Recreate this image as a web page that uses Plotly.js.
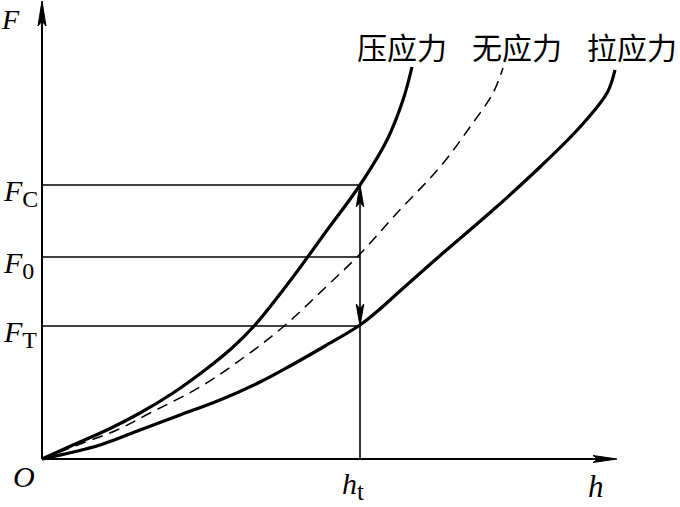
<!DOCTYPE html>
<html>
<head>
<meta charset="utf-8">
<script src="https://cdn.plot.ly/plotly-3.0.1.min.js"></script>
<style>html,body{margin:0;padding:0;background:#fff;}</style>
</head>
<body>
<div id="chart" style="width:680px;height:507px;"></div>
<script>
// Curve data (h, F) in arbitrary units
const hCompress = [0, 31, 65, 98, 131, 163, 190, 213, 248, 283, 318, 345, 361, 370];
const FCompress = [0, 14, 29, 46, 66, 89, 111, 134, 178, 226, 274, 319, 359, 392];

const hNone = [0, 41, 75, 108, 158, 201, 241, 286, 318, 355, 398, 428, 451, 461];
const FNone = [0, 16, 29, 46, 72, 101, 132, 174, 205, 246, 292, 332, 366, 391];

const hTension = [0, 58, 98, 138, 178, 218, 248, 283, 318, 338, 358, 401, 451, 498, 538, 565, 573];
const FTension = [0, 14, 29, 44, 59, 77, 93, 113, 134, 150, 168, 206, 249, 292, 332, 366, 389];

// Reference levels
const H_T = 318;
const F_C = 274;
const F_0 = 202;
const F_T = 133;
const H_MAX = 575;
const F_MAX = 459;

const curveLabels = ['压应力', '无应力', '拉应力'];
const levelNames = ['C', '0', 'T'];
const levelValues = [F_C, F_0, F_T];

const black = '#000';
const traces = [
  {x: hCompress, y: FCompress, mode: 'lines', line: {color: black, width: 3.2, shape: 'spline', smoothing: 1.0}, hoverinfo: 'skip'},
  {x: hNone, y: FNone, mode: 'lines', line: {color: black, width: 1.5, dash: '11px,7px', shape: 'spline', smoothing: 1.0}, hoverinfo: 'skip'},
  {x: hTension, y: FTension, mode: 'lines', line: {color: black, width: 3.2, shape: 'spline', smoothing: 1.0}, hoverinfo: 'skip'},
  // vertical at h_t
  {x: [H_T, H_T], y: [0, F_C], mode: 'lines', line: {color: black, width: 1.6}, hoverinfo: 'skip'}
];
levelValues.forEach(v => traces.push(
  {x: [0, H_T], y: [v, v], mode: 'lines', line: {color: black, width: 1.5}, hoverinfo: 'skip'}
));

function arrowPath(tx, ty, dx, dy, len, half, notch) {
  const bx = tx - dx * len, by = ty - dy * len;
  const nx = tx - dx * (len - notch), ny = ty - dy * (len - notch);
  const px = -dy, py = dx;
  return `M${tx},${ty} L${bx + px * half},${by + py * half} L${nx},${ny} L${bx - px * half},${by - py * half} Z`;
}

const shapes = [
  {type: 'line', xref: 'x', yref: 'y', x0: 0, y0: 0, x1: H_MAX - 8, y1: 0, line: {color: black, width: 2}},
  {type: 'line', xref: 'x', yref: 'y', x0: 0, y0: 0, x1: 0, y1: F_MAX - 8, line: {color: black, width: 2}},
  {type: 'path', xref: 'x', yref: 'y', path: arrowPath(H_MAX, 0, 1, 0, 24, 3.5, 5), fillcolor: black, line: {color: black, width: 1}},
  {type: 'path', xref: 'x', yref: 'y', path: arrowPath(0, F_MAX - 1, 0, 1, 25, 4, 5), fillcolor: black, line: {color: black, width: 1}},
  {type: 'path', xref: 'x', yref: 'y', path: arrowPath(H_T, F_C, 0, 1, 22, 3.8, 5), fillcolor: black, line: {color: black, width: 1}},
  {type: 'path', xref: 'x', yref: 'y', path: arrowPath(H_T, F_T, 0, -1, 22, 3.8, 5), fillcolor: black, line: {color: black, width: 1}}
];

const serif = 'Liberation Serif, Times New Roman, serif';
const cjk = 'Noto Sans CJK SC, sans-serif';
function subText(main, sub, subSize) {
  return `<i>${main}</i><sub><span style="font-size:${subSize}px">${sub}</span></sub>`;
}
const annotations = [
  {x: 360, y: 413, text: curveLabels[0], font: {family: cjk, size: 30, color: black}},
  {x: 475, y: 413, text: curveLabels[1], font: {family: cjk, size: 30, color: black}},
  {x: 590, y: 413, text: curveLabels[2], font: {family: cjk, size: 30, color: black}},
  {x: -32, y: 440, text: '<i>F</i>', font: {family: serif, size: 28, color: black}},
  {x: -18, y: -17, text: '<i>O</i>', font: {family: serif, size: 30, color: black}},
  {x: H_T - 20, xanchor: 'left', y: -27, text: subText('h', 't', 25), font: {family: serif, size: 30, color: black}},
  {x: 553.5, y: -27, text: '<i>h</i>', font: {family: serif, size: 31, color: black}}
];
levelValues.forEach((v, i) => {
  annotations.push({x: -41, xanchor: 'left', y: v - 8, text: subText('F', levelNames[i], 24), font: {family: serif, size: 30, color: black}});
});

const layout = {
  width: 680, height: 507,
  margin: {l: 0, r: 0, t: 0, b: 0, pad: 0},
  paper_bgcolor: '#fff', plot_bgcolor: '#fff',
  showlegend: false,
  xaxis: {range: [-42, 638], visible: false, fixedrange: true},
  yaxis: {range: [-48, 459], visible: false, fixedrange: true},
  shapes: shapes,
  annotations: annotations.map(a => Object.assign({xref: 'x', yref: 'y', showarrow: false}, a))
};

Plotly.newPlot('chart', traces, layout, {staticPlot: true, displayModeBar: false});
</script>
</body>
</html>
